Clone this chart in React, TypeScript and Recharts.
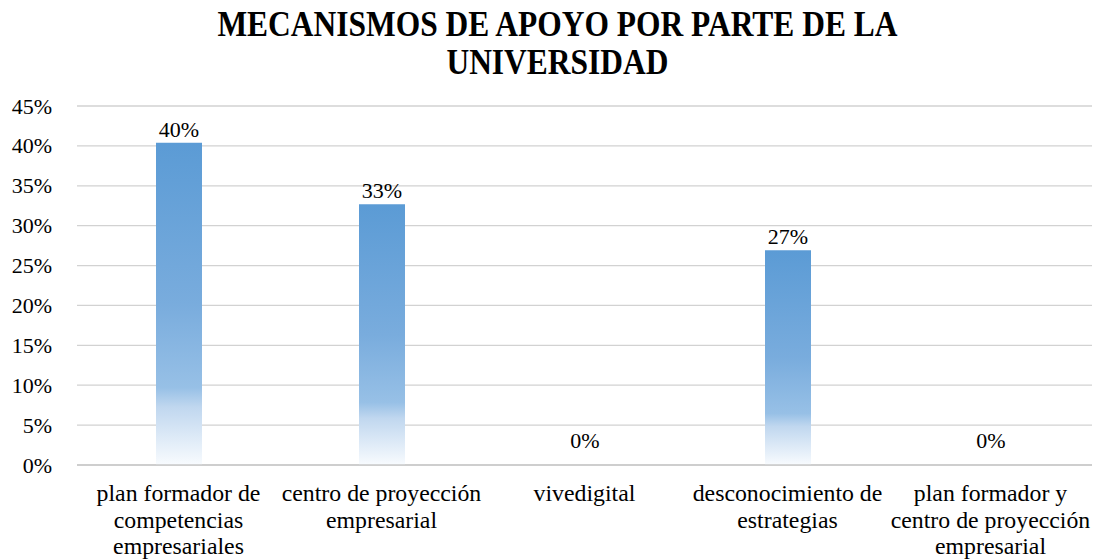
import React from "react";
import { BarChart, Bar, XAxis, YAxis, CartesianGrid, LabelList } from "recharts";

const categories = [
  "plan formador de\ncompetencias\nempresariales",
  "centro de proyección\nempresarial",
  "vivedigital",
  "desconocimiento de\nestrategias",
  "plan formador y\ncentro de proyección\nempresarial",
];
const values = [40.38, 32.69, 0, 26.92, 0];
const yTicks = [0, 5, 10, 15, 20, 25, 30, 35, 40, 45];
const titleLines = ["MECANISMOS DE APOYO POR PARTE DE LA", "UNIVERSIDAD"];

const data = categories.map((c, i) => ({ name: c, value: values[i] }));

const FONT = "'Liberation Serif'";

const XTick = (props: any) => {
  const { x, y, payload } = props;
  const lines = String(payload.value).split("\n");
  return (
    <text x={x} y={y} textAnchor="middle" fontFamily={FONT} fontSize={23.8} fill="#000">
      {lines.map((l, i) => (
        <tspan key={i} x={x} dy={i === 0 ? 36 : 26.5}>
          {l}
        </tspan>
      ))}
    </text>
  );
};

const YTick = (props: any) => {
  const { x, y, payload } = props;
  return (
    <text x={x} y={y} dy={7.5} textAnchor="end" fontFamily={FONT} fontSize={22} fill="#000">
      {payload.value}%
    </text>
  );
};

const ValueLabel = (props: any) => {
  const vb = props.viewBox || {};
  const x = props.x ?? vb.x;
  const y = props.y ?? vb.y;
  const width = props.width ?? vb.width ?? 0;
  const height = props.height ?? vb.height ?? 0;
  const value = props.value;
  if (x == null || y == null) return null;
  const off = Math.abs(height) > 0.5 ? 6 : 17;
  return (
    <text x={x + width / 2} y={y - off} textAnchor="middle" fontFamily={FONT} fontSize={22} fill="#000">
      {Math.round(Number(value) || 0)}%
    </text>
  );
};

export default function App() {
  return (
    <div style={{ position: "absolute", left: 0, top: 0, width: 1094, height: 560, background: "#fff" }}>
      <div
        style={{
          position: "absolute",
          left: 0,
          top: 6.4,
          width: 1115,
          textAlign: "center",
          fontFamily: FONT,
          fontWeight: "bold",
          fontSize: 36,
          lineHeight: "37.5px",
          color: "#000",
          transform: "scaleX(0.874)",
          transformOrigin: "557px 0",
        }}
      >
        {titleLines.map((t, i) => (
          <div key={i}>{t}</div>
        ))}
      </div>
      <div style={{ position: "absolute", left: 0, top: 0 }}>
        <BarChart
          width={1094}
          height={560}
          data={data}
          margin={{ top: 106, right: 2, bottom: 65, left: 0 }}
          barCategoryGap={0}
        >
          <defs>
            <linearGradient id="barGrad" x1="0" y1="0" x2="0" y2="1">
              <stop offset="0%" stopColor="#5B9BD5" />
              <stop offset="50%" stopColor="#79ACDD" />
              <stop offset="76%" stopColor="#97C0E6" />
              <stop offset="82%" stopColor="#C0D7EF" />
              <stop offset="100%" stopColor="#F8FBFE" />
            </linearGradient>
          </defs>
          <CartesianGrid vertical={false} stroke="#d2d2d2" strokeWidth={1.3} />
          <XAxis
            dataKey="name"
            interval={0}
            height={30}
            tickLine={false}
            tickSize={0}
            tickMargin={0}
            axisLine={{ stroke: "#c8c8c8", strokeWidth: 1.5 }}
            tick={<XTick />}
          />
          <YAxis
            domain={[0, 45]}
            ticks={yTicks}
            width={77}
            axisLine={false}
            tickLine={false}
            tickSize={0}
            tickMargin={25}
            tick={<YTick />}
          />
          <Bar
            dataKey="value"
            fill="url(#barGrad)"
            barSize={46}
            minPointSize={0.01}
            isAnimationActive={false}
          >
            <LabelList dataKey="value" content={<ValueLabel />} />
          </Bar>
        </BarChart>
      </div>
    </div>
  );
}
